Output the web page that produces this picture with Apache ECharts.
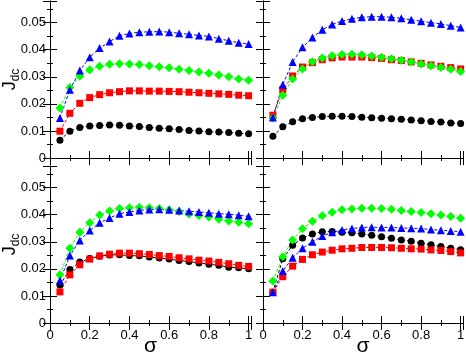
<!DOCTYPE html>
<html>
<head>
<meta charset="utf-8">
<script src="https://cdn.jsdelivr.net/npm/echarts@6/dist/echarts.min.js"></script>
<style>
html,body{margin:0;padding:0;background:#fff;}
#chart{width:466px;height:354px;}
</style>
</head>
<body>
<div id="chart"></div>
<script>
const sigma = [0.05,0.1,0.15,0.2,0.25,0.3,0.35,0.4,0.45,0.5,0.55,0.6,0.65,0.7,0.75,0.8,0.85,0.9,0.95,1.0];

const xTickLabels = ['0','0.2','0.4','0.6','0.8','1'];
const yTickLabels = ['0','0.01','0.02','0.03','0.04','0.05'];

// Panel A (top-left)
const blackA = [0.0066,0.0099,0.0113,0.0118,0.0120,0.0122,0.0121,0.0118,0.0116,0.0113,0.0110,0.0108,0.0105,0.0102,0.0100,0.0097,0.0096,0.0094,0.0091,0.0090];
const redA   = [0.0099,0.0165,0.0202,0.0223,0.0234,0.0241,0.0245,0.0248,0.0248,0.0247,0.0247,0.0246,0.0245,0.0243,0.0241,0.0239,0.0237,0.0235,0.0232,0.0230];
const greenA = [0.0185,0.0260,0.0302,0.0326,0.0339,0.0346,0.0348,0.0347,0.0345,0.0341,0.0337,0.0333,0.0328,0.0323,0.0318,0.0313,0.0307,0.0300,0.0292,0.0287];
const blueA  = [0.0148,0.0252,0.0323,0.0372,0.0406,0.0430,0.0452,0.0460,0.0465,0.0466,0.0467,0.0465,0.0461,0.0457,0.0453,0.0449,0.0441,0.0433,0.0426,0.0421];

// Panel B (top-right)
const blackB = [0.0080,0.0115,0.0134,0.0145,0.0150,0.0153,0.0154,0.0154,0.0153,0.0151,0.0149,0.0147,0.0145,0.0143,0.0140,0.0138,0.0135,0.0133,0.0129,0.0127];
const redB   = [0.0158,0.0252,0.0303,0.0336,0.0352,0.0363,0.0370,0.0373,0.0373,0.0373,0.0371,0.0368,0.0363,0.0360,0.0355,0.0350,0.0344,0.0339,0.0334,0.0329];
const greenB = [0.0148,0.0232,0.0292,0.0329,0.0356,0.0369,0.0378,0.0382,0.0383,0.0381,0.0377,0.0372,0.0367,0.0361,0.0355,0.0347,0.0341,0.0334,0.0328,0.0320];
const blueB  = [0.0150,0.0271,0.0355,0.0409,0.0445,0.0474,0.0493,0.0506,0.0514,0.0520,0.0522,0.0522,0.0520,0.0516,0.0511,0.0505,0.0500,0.0495,0.0489,0.0482];

// Panel C (bottom-left)
const blackC = [0.0140,0.0198,0.0225,0.0238,0.0247,0.0251,0.0252,0.0249,0.0248,0.0244,0.0240,0.0236,0.0231,0.0227,0.0222,0.0217,0.0213,0.0206,0.0204,0.0200];
const redC   = [0.0115,0.0178,0.0215,0.0236,0.0248,0.0254,0.0258,0.0258,0.0256,0.0253,0.0249,0.0246,0.0241,0.0237,0.0232,0.0229,0.0224,0.0219,0.0213,0.0209];
const greenC = [0.0178,0.0276,0.0335,0.0370,0.0399,0.0414,0.0423,0.0426,0.0428,0.0426,0.0423,0.0418,0.0412,0.0403,0.0397,0.0392,0.0383,0.0377,0.0372,0.0367];
const blueC  = [0.0157,0.0249,0.0305,0.0342,0.0370,0.0388,0.0404,0.0410,0.0416,0.0419,0.0420,0.0418,0.0416,0.0413,0.0410,0.0407,0.0404,0.0402,0.0398,0.0394];

// Panel D (bottom-right)
const blackD = [0.0114,0.0237,0.0287,0.0314,0.0329,0.0337,0.0338,0.0335,0.0333,0.0329,0.0324,0.0319,0.0313,0.0307,0.0302,0.0295,0.0289,0.0283,0.0276,0.0271];
const redD   = [0.0114,0.0171,0.0210,0.0235,0.0252,0.0262,0.0269,0.0274,0.0276,0.0279,0.0279,0.0279,0.0278,0.0276,0.0274,0.0273,0.0270,0.0268,0.0264,0.0259];
const greenD = [0.0155,0.0245,0.0307,0.0348,0.0376,0.0396,0.0409,0.0418,0.0421,0.0424,0.0424,0.0423,0.0420,0.0416,0.0412,0.0408,0.0404,0.0399,0.0393,0.0387];
const blueD  = [0.0114,0.0192,0.0241,0.0276,0.0300,0.0321,0.0335,0.0344,0.0349,0.0353,0.0354,0.0353,0.0353,0.0351,0.0350,0.0349,0.0345,0.0343,0.0340,0.0337];

const panels = [
  {black: blackA, red: redA, green: greenA, blue: blueA},
  {black: blackB, red: redB, green: greenB, blue: blueB},
  {black: blackC, red: redC, green: greenC, blue: blueC},
  {black: blackD, red: redD, green: greenD, blue: blueD}
];

const FONT = 'Liberation Sans, Arial, sans-serif';
const grids = [
  {left: 50, top: 1, width: 201, height: 157, outerBoundsMode: 'none', containLabel: false},
  {left: 263, top: 1, width: 200, height: 157, outerBoundsMode: 'none', containLabel: false},
  {left: 50, top: 166, width: 201, height: 157, outerBoundsMode: 'none', containLabel: false},
  {left: 263, top: 166, width: 200, height: 157, outerBoundsMode: 'none', containLabel: false}
];

const styles = {
  black: {color: '#000000', symbol: 'circle', size: 7},
  red:   {color: '#ff0000', symbol: 'rect', size: 7},
  green: {color: '#00ff00', symbol: 'diamond', size: 9},
  blue:  {color: '#0000ff', symbol: 'triangle', size: 8}
};

const xAxes = [], yAxes = [], series = [];
const axisLineStyle = {show: true, lineStyle: {color: '#000', width: 1}};
grids.forEach((g, p) => {
  const bottomRow = p >= 2, leftCol = (p % 2 === 0);
  const xBase = {
    gridIndex: p, type: 'value', min: 0, max: 1.012, interval: 0.2,
    axisLine: axisLineStyle, splitLine: {show: false},
    axisTick: {show: true, inside: true, length: 7, lineStyle: {color: '#000'}},
    minorTick: {show: true, splitNumber: 2, length: 3, lineStyle: {color: '#000'}}
  };
  xAxes.push(Object.assign({}, xBase, {
    position: 'bottom',
    axisLabel: {show: bottomRow, showMaxLabel: false, color: '#000', fontSize: 13, fontFamily: FONT, margin: 6,
      formatter: v => { const i = Math.round(v / 0.2); return Math.abs(v - i * 0.2) < 1e-6 ? xTickLabels[i] : ''; }},
    name: bottomRow ? 'σ' : '', nameLocation: 'middle', nameGap: 13, nameMoveOverlap: false,
    nameTextStyle: {fontSize: 21, color: '#000', fontFamily: FONT}
  }));
  xAxes.push(Object.assign({}, xBase, {position: 'top', axisLabel: {show: false}}));
  const yBase = {
    gridIndex: p, type: 'value', min: 0, max: 0.058, interval: 0.01,
    axisLine: axisLineStyle, splitLine: {show: false},
    axisTick: {show: true, inside: true, length: 7, lineStyle: {color: '#000'}},
    minorTick: {show: true, splitNumber: 2, length: 3, lineStyle: {color: '#000'}}
  };
  yAxes.push(Object.assign({}, yBase, {
    position: 'left',
    axisLabel: {show: leftCol, showMaxLabel: false, color: '#000', fontSize: 13, fontFamily: FONT, margin: 4,
      formatter: v => { const i = Math.round(v / 0.01); return Math.abs(v - i * 0.01) < 1e-9 ? yTickLabels[i] : ''; }},
    name: leftCol ? '{j|J}{s|dc}' : '', nameLocation: 'middle', nameGap: 28, nameRotate: 90, nameMoveOverlap: false,
    nameTextStyle: {color: '#000', fontFamily: FONT,
      rich: {
        j: {fontSize: 18, lineHeight: 21, verticalAlign: 'top', fontFamily: FONT, color: '#000'},
        s: {fontSize: 12, lineHeight: 12, verticalAlign: 'bottom', fontFamily: FONT, color: '#000'}
      }}
  }));
  yAxes.push(Object.assign({}, yBase, {position: 'right', axisLabel: {show: false}}));

  ['black', 'red', 'green', 'blue'].forEach(c => {
    const st = styles[c];
    series.push({
      type: 'line', xAxisIndex: 2 * p, yAxisIndex: 2 * p,
      data: sigma.map((s, i) => [s, panels[p][c][i]]),
      symbol: st.symbol, symbolSize: st.size, showSymbol: true,
      itemStyle: {color: st.color, borderWidth: 0},
      lineStyle: {color: st.color, width: 1, type: [3, 2]},
      emphasis: {disabled: true}, silent: true, z: 2
    });
  });
});

const chart = echarts.init(document.getElementById('chart'), null, {renderer: 'canvas'});
chart.setOption({
  animation: false,
  backgroundColor: '#fff',
  grid: grids,
  xAxis: xAxes,
  yAxis: yAxes,
  series: series
});
</script>
</body>
</html>
